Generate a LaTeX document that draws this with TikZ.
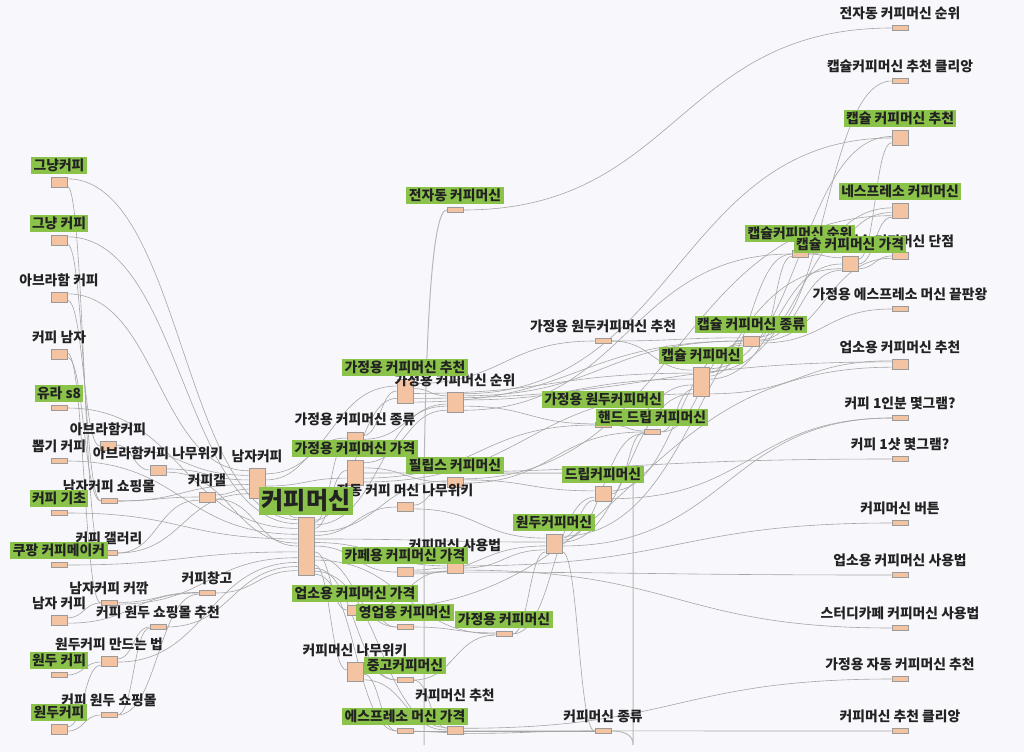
\documentclass[tikz,border=0pt]{standalone}
\usepackage{fontspec}
\setmainfont{Noto Sans CJK KR}
\usetikzlibrary{positioning,calc}
\definecolor{grn}{HTML}{8BC34A}
\definecolor{boxfill}{HTML}{F4C3A2}
\definecolor{boxline}{HTML}{9A9A9A}
\definecolor{lnk}{HTML}{A6A6A6}
\definecolor{paper}{HTML}{F8F8FC}
\definecolor{txt}{HTML}{222222}
\pgfdeclarelayer{bg}
\pgfdeclarelayer{bx}
\pgfsetlayers{bg,bx,main}

\begin{document}
\begin{tikzpicture}[x=1pt, y=-1pt,
  font=\fontsize{13.8}{15}\selectfont\bfseries,
  box/.style={draw=boxline, fill=boxfill, line width=0.6pt, minimum width=16pt, inner sep=0pt},
  glbl/.style={fill=grn, text=txt, inner xsep=2.5pt, inner ysep=1.8pt},
  plbl/.style={text=txt, inner xsep=2.5pt, inner ysep=1.8pt},
  link/.style={lnk, line width=0.6pt},
  loopl/.style={lnk!80, line width=1pt},
]
\useasboundingbox (0,0) rectangle (1024,752);

% ---------- nodes: name, x, y, box height, label gap, label style, text ----------
\foreach \n/\x/\y/\h/\g/\s/\t in {
  r1/900/28/5/3/plbl/{전자동 커피머신 순위},
  r2/900/81/5/3/plbl/{캡슐커피머신 추천 클리앙},
  r3/900/138/15/3/glbl/{캡슐 커피머신 추천},
  r4/900/211/15/3/glbl/{네스프레소 커피머신},
  r5/900/256/7/2/plbl/{캡슐 커피머신 단점},
  r6/900/309/5/3/plbl/{가정용 에스프레소 머신 끝판왕},
  r7/900/364/10/3/plbl/{업소용 커피머신 추천},
  r8/900/418/5/3/plbl/{커피 1인분 몇그램?},
  r9/900/459/5/3/plbl/{커피 1샷 몇그램?},
  r10/900/523/5/3/plbl/{커피머신 버튼},
  r11/900/575/5/3/plbl/{업소용 커피머신 사용법},
  r12/900/628/5/3/plbl/{스터디카페 커피머신 사용법},
  r13/900/679/5/3/plbl/{가정용 자동 커피머신 추천},
  r14/900/731/5/3/plbl/{커피머신 추천 클리앙},
  caprank/800/254/7/8/glbl/{캡슐커피머신 순위},
  capp/850/264/15/3/glbl/{캡슐 커피머신 가격},
  capk/751/341/10/3/glbl/{캡슐 커피머신 종류},
  cap/701/382/29/3/glbl/{캡슐 커피머신},
  hbr/603/341/5/3/plbl/{가정용 원두커피머신 추천},
  hb/603/425/5/14/glbl/{가정용 원두커피머신},
  drip/603/494/15/3/glbl/{드립커피머신},
  kind/603/731/5/3/plbl/{커피머신 종류},
  hand/652/432/5/3/glbl/{핸드 드립 커피머신},
  bean/554/544/19/3/glbl/{원두커피머신},
  hm/504/634/5/3/glbl/{가정용 커피머신},
  auto/455/210/5/3/glbl/{전자동 커피머신},
  hmrank/455/402/20/3/plbl/{가정용 커피머신 순위},
  phil/455/482/10/3/glbl/{필립스 커피머신},
  howto/455/568/10/9/plbl/{커피머신 사용법},
  kmr/455/730/8/22/plbl/{커피머신 추천},
  hmr/405/391/24/3/glbl/{가정용 커피머신 추천},
  awiki/405/507/9/3/plbl/{자동 커피 머신 나무위키},
  cafe/405/572/9/3/glbl/{카페용 커피머신 가격},
  sales/405/627/5/3/glbl/{영업용 커피머신},
  used/405/680/5/3/glbl/{중고커피머신},
  espp/405/731/5/3/glbl/{에스프레소 머신 가격},
  hmk/355/438/12/4/plbl/{가정용 커피머신 종류},
  hmp/355/473/25/3/glbl/{가정용 커피머신 가격},
  bmp/355/610/10/3/glbl/{업소용 커피머신 가격},
  kwiki/355/672/19/3/plbl/{커피머신 나무위키},
  nj/257/483/30/3/plbl/{남자커피},
  kgl/207/497/10/3/plbl/{커피갤},
  kcg/207/593/5/3/plbl/{커피창고},
  abwiki/158/470/10/3/plbl/{아브라함커피 나무위키},
  wdspc/158/627/5/3/plbl/{커피 원두 쇼핑몰 추천},
  abk2/108/446/9/3/plbl/{아브라함커피},
  njsp/109/501/5/3/plbl/{남자커피 쇼핑몰},
  kgal/109/553/5/3/plbl/{커피 갤러리},
  njkk/109/603/5/3/plbl/{남자커피 커깎},
  wdmk/109/661/10/3/plbl/{원두커피 만드는 법},
  wdsp/109/715/5/3/plbl/{커피 원두 쇼핑몰},
  gk1/59/182/10/3/glbl/{그냥커피},
  gk2/59/240/10/3/glbl/{그냥 커피},
  abk/59/297/10/3/plbl/{아브라함 커피},
  knj/59/354/10/3/plbl/{커피 남자},
  yura/59/408/5/3/glbl/{유라 s8},
  ppk/59/461/5/3/plbl/{뽑기 커피},
  kgc/59/513/5/3/glbl/{커피 기초},
  cpg/59/565/5/3/glbl/{쿠팡 커피메이커},
  njk/59/620/10/3/plbl/{남자 커피},
  wdk/59/675/5/3/glbl/{원두 커피},
  wdk2/59/729/10/3/glbl/{원두커피}}
{
  \begin{pgfonlayer}{bx}
    \node[box, minimum height=\h pt] (\n) at (\x,\y) {};
  \end{pgfonlayer}
  \node[\s, above=\g pt of \n] (\n-l) {\t};
}

% the main keyword
\begin{pgfonlayer}{bx}
  \node[box, minimum height=58pt] (km) at (306,546) {};
\end{pgfonlayer}
\node[glbl, above=2pt of km, inner ysep=2.5pt, font=\fontsize{24}{26}\selectfont\bfseries] (km-l) {커피머신};

% ---------- links: source/fraction/target/fraction ----------
\begin{pgfonlayer}{bg}
\fill[paper] (0,0) rectangle (1024,752);
\foreach \a/\fa/\b/\fb in {
  gk1/.2/km/.05, gk1/.9/kgal/.5, gk2/.2/km/.12, gk2/.9/njsp/.5,
  abk/.2/nj/.1, abk/.8/abk2/.5, knj/.4/njkk/.5, knj/.8/njsp/.5,
  yura/.5/km/.2, ppk/.5/km/.3, kgc/.5/km/.38, cpg/.5/km/.6,
  njk/.3/njkk/.5, njk/.8/kcg/.5, wdk/.5/wdmk/.6,
  wdk2/.3/wdmk/.9, wdk2/.7/wdsp/.5,
  abk2/.4/abwiki/.5, abk2/.7/nj/.25, njsp/.5/kgl/.5, njsp/.5/nj/.55,
  kgal/.5/kgl/.8, kgal/.5/nj/.85, njkk/.4/kcg/.4, njkk/.7/km/.7,
  wdmk/.6/km/.78, wdmk/.3/wdspc/.5, wdsp/.5/wdspc/.7, wdsp/.5/kcg/.7,
  abwiki/.4/nj/.4, abwiki/.7/km/.45, wdspc/.5/km/.85,
  kgl/.3/nj/.7, kgl/.7/km/.5, kcg/.5/km/.92,
  nj/.2/hmr/.3, nj/.4/hmk/.5, nj/.6/hmp/.7, nj/.9/km/.02,
  km/.06/hmr/.8, km/.1/hmk/.8, km/.14/hmrank/.6,
  km/.2/hmp/.4, km/.26/phil/.4, km/.32/awiki/.5, km/.38/bean/.4,
  km/.44/howto/.3, km/.5/cafe/.5, km/.6/bmp/.5, km/.68/sales/.5,
  km/.74/hm/.5, km/.82/kwiki/.4, km/.88/used/.5, km/.93/kmr/.2,
  km/.98/espp/.5,
  hmk/.3/hmr/.5, hmk/.6/hmrank/.7,
  hmp/.1/hmrank/.9, hmp/.3/phil/.5, hmp/.5/r9/.5, hmp/.7/hb/.5, hmp/.85/cap/.9,
  bmp/.3/sales/.5, bmp/.5/r7/.8, bmp/.7/howto/.8,
  kwiki/.3/used/.5, kwiki/.6/espp/.5, kwiki/.9/kmr/.5,
  hmr/.2/hbr/.5, hmr/.4/hmrank/.2, hmr/.6/cap/.2,
  hmr/.8/r7/.3, hmr/.95/capk/.5,
  awiki/.3/phil/.7, awiki/.7/bean/.2,
  cafe/.3/howto/.5, cafe/.5/r11/.5, cafe/.7/bean/.6,
  sales/.5/hm/.3, used/.5/hm/.7, used/.5/kmr/.3,
  espp/.5/kmr/.8, espp/.5/kind/.5,
  auto/.5/r1/.5,
  hmrank/.1/r3/.5, hmrank/.2/capk/.5, hmrank/.4/cap/.4, hmrank/.7/hb/.3,
  hmrank/.9/caprank/.5,
  phil/.2/r4/.8, phil/.3/drip/.3, phil/.6/hand/.5,
  howto/.3/r10/.5, howto/.5/bean/.8, howto/.7/r12/.5,
  kmr/.3/r13/.5, kmr/.6/r14/.5, kmr/.9/kind/.5,
  hm/.5/bean/.9, hm/.5/drip/.7,
  bean/.1/capp/.8, bean/.2/drip/.9, bean/.3/hand/.8, bean/.4/cap/.9,
  bean/.6/r8/.5, bean/.9/kind/.5,
  hbr/.5/cap/.1, hbr/.5/capk/.2, hb/.5/hand/.3, hb/.5/cap/.6,
  drip/.3/capk/.9, drip/.5/hand/.6, drip/.8/r8/.5,
  hand/.5/cap/.75, hand/.5/capk/.7,
  cap/.05/r3/.4, cap/.15/r4/.3, cap/.2/capk/.4, cap/.3/caprank/.5,
  cap/.4/capp/.5, cap/.9/r7/.2,
  capk/.1/r2/.5, capk/.2/caprank/.8, capk/.4/capp/.9, capk/.5/r5/.8,
  capk/.7/r6/.5,
  caprank/.5/capp/.1, caprank/.5/r4/.6,
  capp/.2/r3/.8, capp/.5/r4/.9, capp/.8/r5/.5}
{
  \draw[link] let \p1=($(\a.north east)!\fa!(\a.south east)$),
                  \p2=($(\b.north west)!\fb!(\b.south west)$) in
    (\p1) .. controls ({0.5*\x1+0.5*\x2},\y1) and ({0.5*\x1+0.5*\x2},\y2) .. (\p2);
}

% circular links running round the bottom
\coordinate (lp1) at (633,745);
\coordinate (lp2) at (633,473);
\coordinate (lp3) at (463,473);
\draw[loopl] (kind.east) .. controls (628,731) and (633,737) .. (lp1) -- (lp2) -- (lp3);
\coordinate (lq1) at (424,745);
\coordinate (lq2) at (424,480);
\draw[loopl] (lq1) -- (lq2) .. controls (426,330) and (432,210) .. (auto.west);
\end{pgfonlayer}

\end{tikzpicture}
\end{document}
